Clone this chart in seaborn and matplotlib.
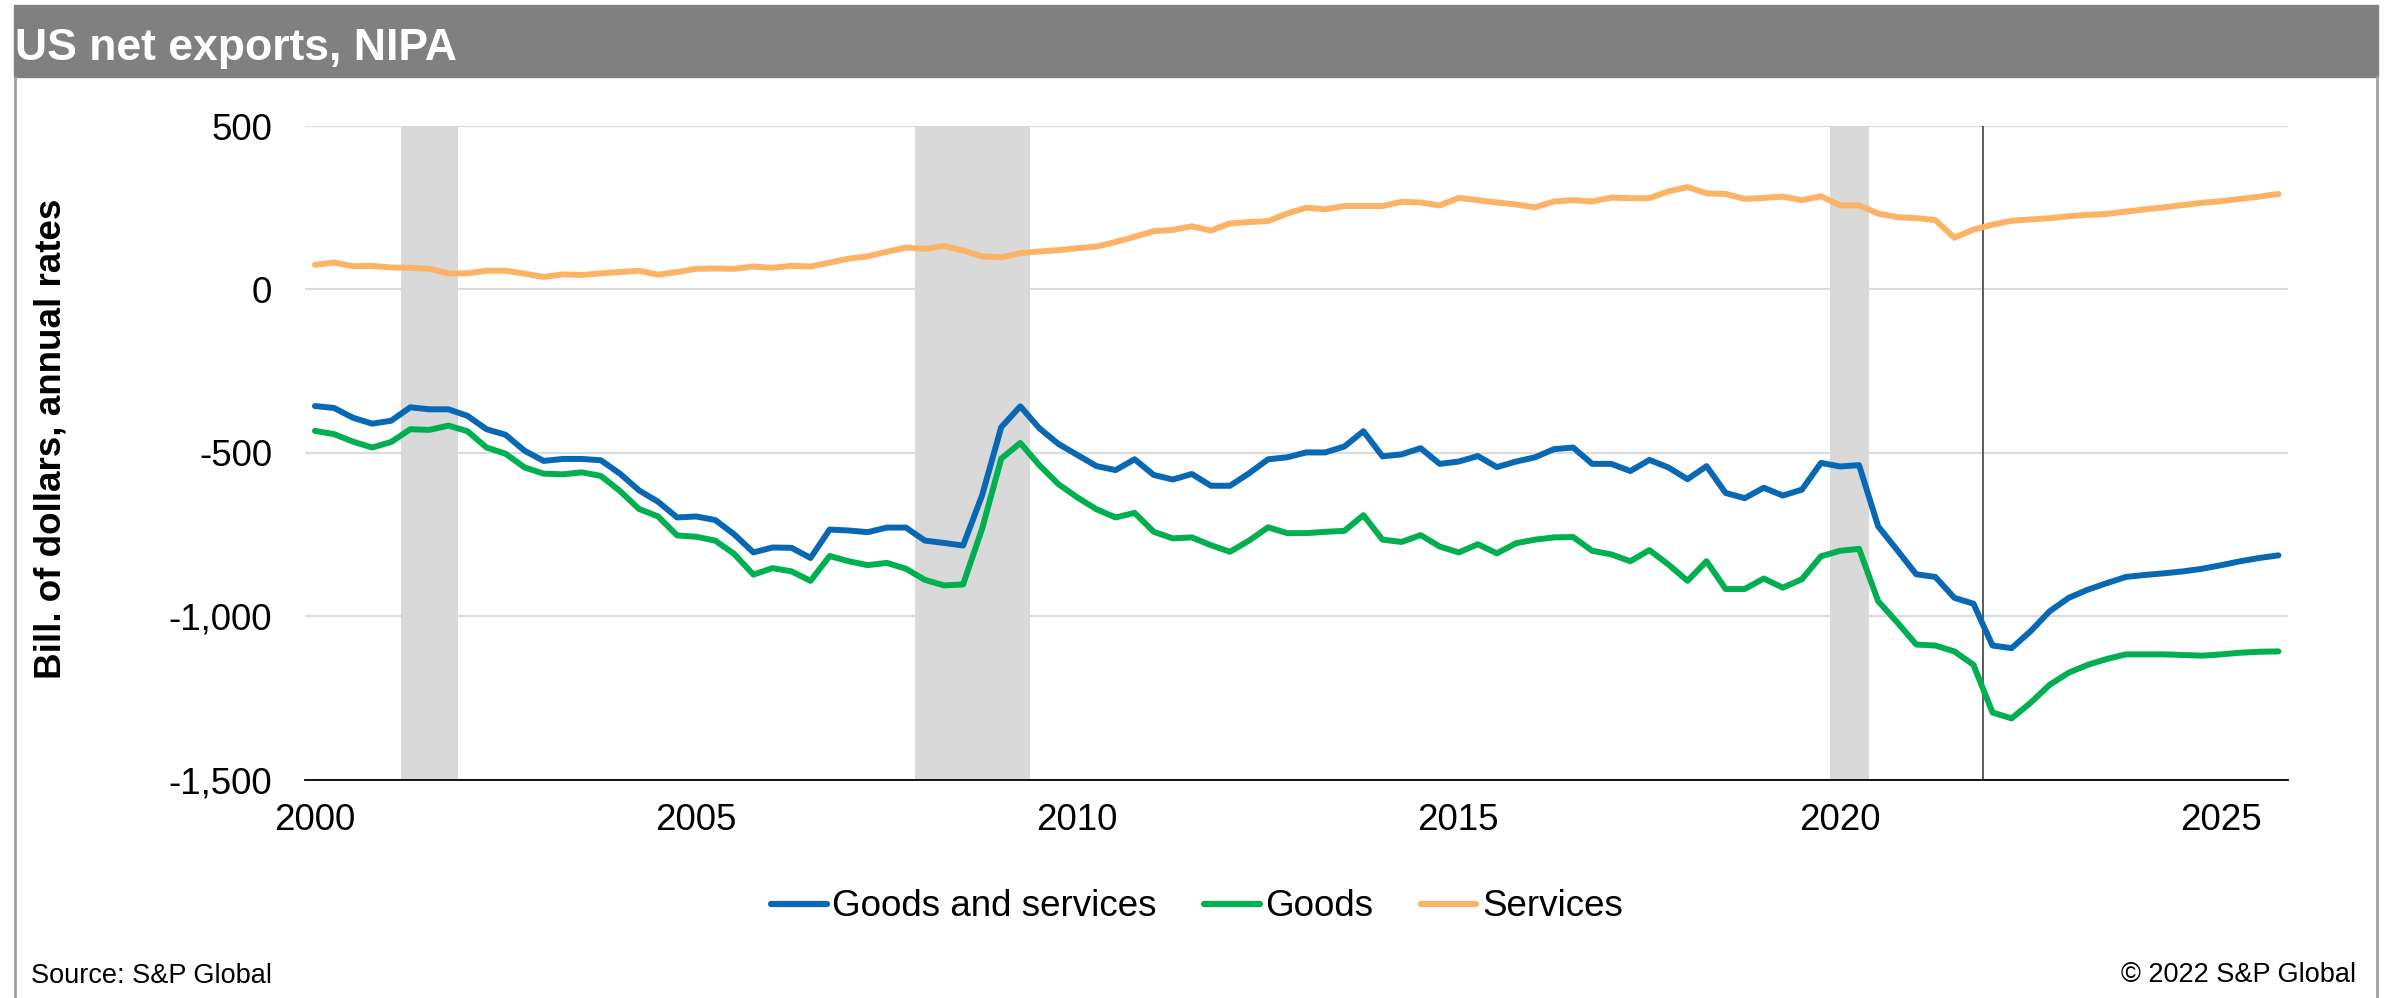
import numpy as np
import pandas as pd
import matplotlib
matplotlib.use('Agg')
import matplotlib.pyplot as plt
import matplotlib.transforms as mtransforms
from matplotlib.patches import Rectangle
from matplotlib.lines import Line2D
from matplotlib.ticker import FuncFormatter
import seaborn as sns

# quarterly, 2000Q1 .. 2025Q4, bill. of dollars (annual rates)
quarters = pd.period_range('2000Q1', '2025Q4', freq='Q')

goods_and_services = [
    -357, -363, -393, -411,  -402, -361, -367, -367,  -387, -428, -445, -494,
    -525, -519, -519, -523,  -564, -615, -650, -698,  -695, -706, -750, -805,
    -790, -791, -822, -735,  -738, -743, -729, -729,  -769, -776, -784, -630,
    -422, -358, -425, -473,  -507, -541, -553, -520,  -568, -582, -565, -601,
    -601, -563, -520, -514,  -499, -499, -481, -434,  -511, -505, -486, -534,
    -527, -510, -544, -527,  -514, -489, -484, -534,  -534, -556, -522, -545,
    -581, -541, -623, -639,  -607, -631, -613, -531,  -542, -538, -725, -798,
    -872, -880, -944, -962,  -1090, -1098, -1046, -985,  -944, -919, -899, -880,
    -874, -869, -863, -855,  -844, -832, -822, -814,
]
goods = [
    -433, -443, -466, -484,  -467, -428, -430, -417,  -434, -484, -503, -545,
    -564, -566, -560, -571,  -617, -672, -695, -753,  -757, -769, -810, -873,
    -853, -863, -892, -816,  -832, -844, -837, -855,  -889, -906, -903, -732,
    -518, -470, -538, -596,  -637, -673, -698, -684,  -742, -762, -759, -783,
    -803, -769, -728, -746,  -746, -742, -739, -691,  -766, -773, -752, -787,
    -805, -780, -808, -777,  -766, -759, -758, -800,  -811, -832, -798, -842,
    -892, -832, -917, -917,  -885, -913, -887, -817,  -800, -794, -954, -1019,
    -1087, -1090, -1108, -1149,  -1295, -1313, -1265, -1210,  -1173, -1149, -1131, -1117,
    -1117, -1117, -1119, -1121,  -1117, -1112, -1109, -1108,
]
services = [
    75, 82, 71, 72,  67, 66, 63, 49,  49, 57, 57, 48,  38, 46, 44, 49,
    53, 57, 45, 53,  63, 64, 63, 70,  66, 72, 70, 82,  94, 101, 115, 128,
    124, 133, 119, 101,  98, 111, 116, 120,  126, 131, 145, 161,  178, 182, 193, 180,
    202, 206, 209, 232,  250, 245, 255, 255,  255, 268, 266, 257,  280, 273, 266, 260,
    251, 269, 273, 269,  281, 279, 279, 300,  313, 294, 292, 277,  280, 284, 273, 285,
    257, 257, 232, 221,  218, 212, 158, 183,  198, 210, 214, 218,  224, 228, 231, 238,
    245, 251, 258, 265,  270, 277, 284, 292,
]

series_names = ['Goods and services', 'Goods', 'Services']
series_colors = ['#0868b4', '#00b050', '#fdb366']
recessions = [(2001.25, 2002.0), (2008.0, 2009.5), (2020.0, 2020.5)]
forecast_start = 2022.0
year_ticks = [2000, 2005, 2010, 2015, 2020, 2025]
y_ticks = [-1500, -1000, -500, 0, 500]

x_pos = quarters.year + (quarters.quarter - 0.5) / 4.0
df = pd.concat([
    pd.DataFrame({'x': x_pos, 'value': vals, 'series': name})
    for name, vals in zip(series_names, [goods_and_services, goods, services])
])

sns.set_style('white')
plt.rcParams['font.family'] = ['Liberation Sans', 'DejaVu Sans']
for k in ['text.color', 'axes.labelcolor', 'xtick.color', 'ytick.color']:
    plt.rcParams[k] = 'black'

W, H = 2392, 998
fig = plt.figure(figsize=(W / 100, H / 100), dpi=100)
ax = fig.add_axes([305.4 / W, 1 - 779.5 / H, (2288 - 305.4) / W, (779.5 - 126) / H])

# frame and header
fig.patches.append(Rectangle((14 / W, 1 - 77 / H), (2378 - 14) / W, 72 / H,
                             transform=fig.transFigure, color='#7f807f', zorder=0))
for xb in [15, 2377]:
    fig.add_artist(Line2D([xb / W, xb / W], [0, 1 - 77 / H], color='#a0a0a0', lw=2))
fig.text(15 / W, 1 - 60 / H, 'US net exports, NIPA', color='white', fontsize=32,
         fontweight='bold', va='baseline')

for a, b in recessions:
    ax.axvspan(a, b, color='#d9d9d9', lw=0, zorder=1)
ax.axvline(forecast_start, color='#404040', lw=1.2, zorder=2)

sns.lineplot(data=df, x='x', y='value', hue='series', hue_order=series_names,
             palette=series_colors, linewidth=4.3, estimator=None, ax=ax, zorder=3,
             solid_capstyle='round', solid_joinstyle='round')

ax.set_xlim(2000, 2026)
ax.set_ylim(-1500, 500)
ax.set_xticks(year_ticks)
ax.set_yticks(y_ticks)
ax.yaxis.set_major_formatter(FuncFormatter(lambda v, p: f'{v:,.0f}'))
ax.yaxis.grid(True, color='#dcdcdc', linewidth=1.6)
ax.set_axisbelow(True)
for s in ['left', 'top', 'right']:
    ax.spines[s].set_visible(False)
ax.spines['bottom'].set_color('black')
ax.spines['bottom'].set_linewidth(1.3)
ax.tick_params(axis='x', direction='inout', length=15.5, width=1.2, pad=9, labelsize=26.5)
ax.tick_params(axis='y', length=0, pad=23.8, labelsize=26.5)
shift = mtransforms.ScaledTranslation(9 / 100, 0, fig.dpi_scale_trans)
for lab in ax.get_xticklabels():
    lab.set_transform(lab.get_transform() + shift)

ax.set_xlabel('')
ax.set_ylabel('Bill. of dollars, annual rates', fontsize=26.5, fontweight='bold')
ax.yaxis.set_label_coords((68 - 305.4) / (2288 - 305.4), (779.5 - 439) / 653.5)

handles, labels = ax.get_legend_handles_labels()
ax.get_legend().remove()
leg = fig.legend(handles, labels, loc='center', bbox_to_anchor=(1197 / W, 1 - 907 / H),
                 ncol=3, frameon=False, fontsize=26.5, handlelength=1.5,
                 handletextpad=0.15, columnspacing=1.3)
for ln in leg.get_lines():
    ln.set_linewidth(4.5)

fig.text(31 / W, 1 - 983 / H, 'Source: S&P Global', fontsize=19.5, va='baseline')
fig.text(2356 / W, 1 - 982 / H, '\u00a9 2022 S&P Global', fontsize=19.5, va='baseline', ha='right')

fig.savefig('out.png', dpi=100)
